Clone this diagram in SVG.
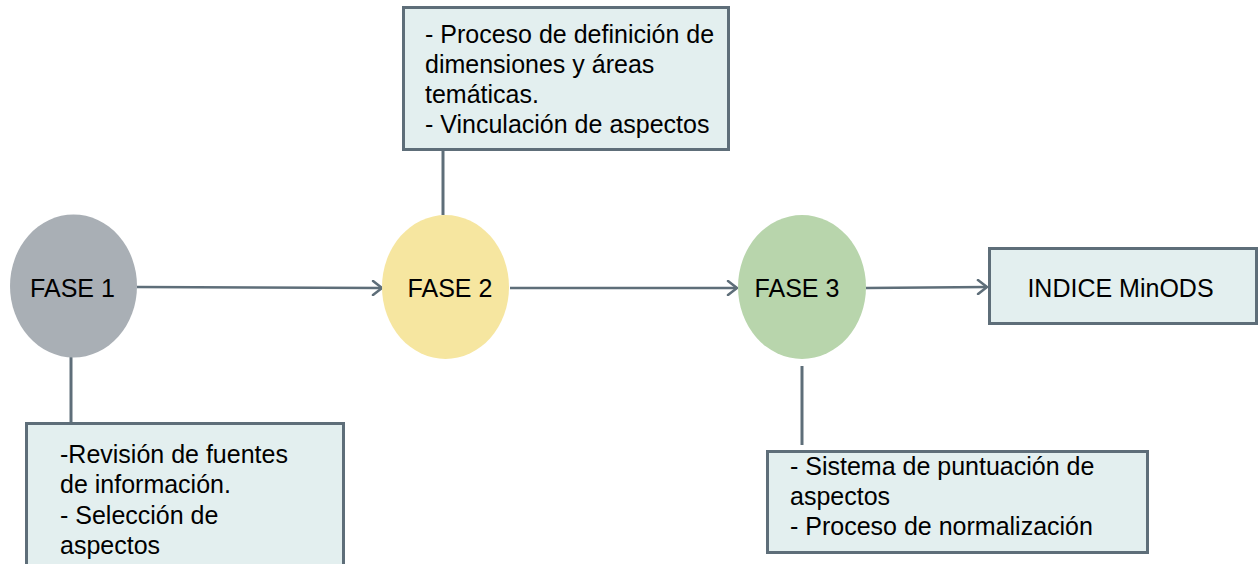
<svg xmlns="http://www.w3.org/2000/svg" width="1258" height="564" viewBox="0 0 1258 564">
<defs>
<marker id="arr" markerWidth="14" markerHeight="16" refX="11" refY="8" orient="auto" markerUnits="userSpaceOnUse">
<path d="M2,1 L11,8 L2,15" fill="none" stroke="#5E6E79" stroke-width="2.5" stroke-linecap="round" stroke-linejoin="round"/>
</marker>
</defs>
<style>
text{font-family:"Liberation Sans",Arial,sans-serif;font-size:25px;fill:#000}
.box{fill:#E3EFEF;stroke:#5E6E79;stroke-width:3}
.line{stroke:#5E6E79;stroke-width:3;fill:none}
.arrow{stroke:#5E6E79;stroke-width:2.5;fill:none;marker-end:url(#arr)}
.mid{text-anchor:middle}
</style>
<rect width="1258" height="564" fill="#fff"/>
<g id="connectors">
<line class="arrow" x1="137" y1="287" x2="382" y2="288"/>
<line class="arrow" x1="510" y1="288" x2="737" y2="288"/>
<line class="arrow" x1="866" y1="288" x2="987" y2="287"/>
<line class="line" x1="443" y1="150" x2="443" y2="215"/>
<line class="line" x1="71" y1="357" x2="71" y2="423"/>
<line class="line" x1="802" y1="366" x2="802" y2="445"/>
</g>
<g id="fase1">
<ellipse cx="73.5" cy="286" rx="63.5" ry="71.5" fill="#A9AFB5"/>
<text x="72.5" y="297" class="mid">FASE 1</text>
</g>
<g id="fase2">
<ellipse cx="445.5" cy="287" rx="63.5" ry="72" fill="#F6E6A0"/>
<text x="450" y="297" class="mid">FASE 2</text>
</g>
<g id="fase3">
<ellipse cx="802" cy="287" rx="64" ry="72" fill="#B8D5AC"/>
<text x="797" y="297" class="mid">FASE 3</text>
</g>
<g id="indice">
<rect class="box" x="989.5" y="248.5" width="267" height="75"/>
<text x="1120.5" y="297" class="mid">INDICE MinODS</text>
</g>
<g id="box-fase2">
<rect class="box" x="403.5" y="7.5" width="325" height="142"/>
<text x="425" y="43">- Proceso de definición de</text>
<text x="425" y="73">dimensiones y áreas</text>
<text x="425" y="103">temáticas.</text>
<text x="425" y="133">- Vinculación de aspectos</text>
</g>
<g id="box-fase1">
<rect class="box" x="26.5" y="423.5" width="317" height="160"/>
<text x="60" y="463">-Revisión de fuentes</text>
<text x="60" y="493">de información.</text>
<text x="60" y="524">- Selección de</text>
<text x="60" y="554">aspectos</text>
</g>
<g id="box-fase3">
<rect class="box" x="767.5" y="451.5" width="380" height="101"/>
<text x="790" y="475">- Sistema de puntuación de</text>
<text x="790" y="505">aspectos</text>
<text x="790" y="535">- Proceso de normalización</text>
</g>
</svg>
